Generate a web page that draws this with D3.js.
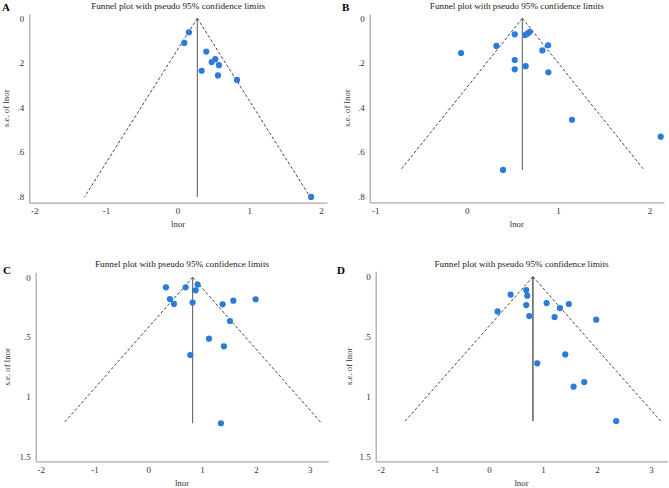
<!DOCTYPE html>
<html>
<head>
<meta charset="utf-8">
<script src="https://cdn.jsdelivr.net/npm/d3@7"></script>
<style>
  html, body { margin: 0; padding: 0; background: #fff; }
  svg text { font-family: "Liberation Serif", "Times New Roman", "DejaVu Serif", serif; }
</style>
</head>
<body>
<div id="chart"></div>
<script>
const WIDTH = 669;
const HEIGHT = 488;

const TITLE = 'Funnel plot with pseudo 95% confidence limits';
const X_LABEL = 'lnor';
const Y_LABEL = 's.e. of lnor';

// lnor / se pairs
const A_LNOR = [0.158, 0.093, 0.40, 0.526, 0.475, 0.577, 0.335, 0.563, 0.829, 1.863];
const A_SE   = [0.063, 0.111, 0.150, 0.184, 0.197, 0.211, 0.236, 0.257, 0.277, 0.803];
const A_POOLED = 0.275;
const A_XTICKS = [-2, -1, 0, 1, 2];
const A_YTICKS = [0, 0.2, 0.4, 0.6, 0.8];

const B_LNOR = [-0.062, 0.325, 0.526, 0.639, 0.664, 0.690, 0.891, 0.828, 0.526, 0.526, 0.646, 0.894, 1.153, 2.124, 0.398];
const B_SE   = [0.156, 0.124, 0.072, 0.075, 0.069, 0.061, 0.121, 0.144, 0.187, 0.229, 0.215, 0.242, 0.455, 0.531, 0.680];
const B_POOLED = 0.609;
const B_XTICKS = [-1, 0, 1, 2];
const B_YTICKS = [0, 0.2, 0.4, 0.6, 0.8];

const C_LNOR = [0.328, 0.694, 0.917, 0.880, 0.403, 0.477, 0.824, 1.382, 1.580, 1.995, 1.518, 1.128, 1.406, 0.781, 1.350];
const C_SE   = [0.084, 0.084, 0.061, 0.109, 0.182, 0.223, 0.212, 0.226, 0.196, 0.184, 0.366, 0.514, 0.578, 0.651, 1.223];
const C_POOLED = 0.824;
const C_XTICKS = [-2, -1, 0, 1, 2, 3];
const C_YTICKS = [0, 0.5, 1, 1.5];

const D_LNOR = [0.690, 0.709, 0.401, 0.690, 0.160, 0.746, 1.067, 1.313, 1.479, 1.215, 1.985, 1.412, 0.894, 1.763, 1.566, 2.355];
const D_SE   = [0.111, 0.159, 0.150, 0.237, 0.290, 0.329, 0.220, 0.262, 0.228, 0.337, 0.359, 0.649, 0.724, 0.880, 0.919, 1.206];
const D_POOLED = 0.814;
const D_XTICKS = [-2, -1, 0, 1, 2, 3];
const D_YTICKS = [0, 0.5, 1, 1.5];

const DOT = '#2b7bdb';
const Z = 1.96;
const SERIF = '"Liberation Serif", "Times New Roman", serif';

const panels = [
  { tag: 'A', lnor: A_LNOR, se: A_SE, pooled: A_POOLED, xt: A_XTICKS, yt: A_YTICKS,
    xd: [-2.07, 2.085], xr: [29.3, 327], yd: [-0.02, 0.829], yr: [13.8, 202.7],
    tagX: 2, tagY: 11, yLabX: 8.5, titleY: 8.5, centre: '#666' },
  { tag: 'B', lnor: B_LNOR, se: B_SE, pooled: B_POOLED, xt: B_XTICKS, yt: B_YTICKS,
    xd: [-1.062, 2.16], xr: [369.7, 664], yd: [-0.02, 0.825], yr: [13.8, 202.3],
    tagX: 342, tagY: 11, yLabX: 349.5, titleY: 8.5, centre: '#666' },
  { tag: 'C', lnor: C_LNOR, se: C_SE, pooled: C_POOLED, xt: C_XTICKS, yt: C_YTICKS,
    xd: [-2.093, 3.346], xr: [35.7, 328.3], yd: [-0.042, 1.542], yr: [272.3, 461.3],
    tagX: 3, tagY: 274, yLabX: 9.5, titleY: 267, centre: '#666' },
  { tag: 'D', lnor: D_LNOR, se: D_SE, pooled: D_POOLED, xt: D_XTICKS, yt: D_YTICKS,
    xd: [-2.095, 3.30], xr: [375.7, 667.3], yd: [-0.045, 1.542], yr: [271.3, 461.3],
    tagX: 337, tagY: 274, yLabX: 351.5, titleY: 266.5, centre: '#222' }
];

const fmt = d => (d === 0 ? '0' : String(d).replace(/^0\./, '.'));

const svg = d3.select('#chart')
  .append('svg')
  .attr('width', WIDTH)
  .attr('height', HEIGHT)
  .style('display', 'block');

panels.forEach(p => {
  const x = d3.scaleLinear().domain(p.xd).range(p.xr);
  const y = d3.scaleLinear().domain(p.yd).range(p.yr);
  const g = svg.append('g');
  const maxSe = d3.max(p.se);

  // axes: grey line, labels only
  const xAxis = g.append('g')
    .attr('transform', `translate(0,${p.yr[1]})`)
    .call(d3.axisBottom(x).tickValues(p.xt).tickFormat(fmt).tickSize(0).tickPadding(5));
  const yAxis = g.append('g')
    .attr('transform', `translate(${p.xr[0]},0)`)
    .call(d3.axisLeft(y).tickValues(p.yt).tickFormat(fmt).tickSize(0).tickPadding(5));
  [xAxis, yAxis].forEach(a => {
    a.attr('font-family', SERIF).attr('font-size', 9);
    a.select('.domain').attr('stroke', '#aaa').attr('stroke-width', 1.3);
    a.selectAll('text').attr('fill', '#333');
  });

  // pseudo 95% limits
  const limits = [
    [[p.pooled, 0], [p.pooled - Z * maxSe, maxSe]],
    [[p.pooled, 0], [p.pooled + Z * maxSe, maxSe]]
  ];
  g.selectAll('.limit')
    .data(limits)
    .join('path')
    .attr('class', 'limit')
    .attr('d', d3.line().x(d => x(d[0])).y(d => y(d[1])))
    .attr('fill', 'none')
    .attr('stroke', '#333')
    .attr('stroke-width', 0.9)
    .attr('stroke-dasharray', '3,2');

  g.append('line')
    .attr('x1', x(p.pooled)).attr('x2', x(p.pooled))
    .attr('y1', y(0)).attr('y2', y(maxSe))
    .attr('stroke', p.centre)
    .attr('stroke-width', 1.1);

  g.selectAll('.dot')
    .data(d3.zip(p.lnor, p.se))
    .join('circle')
    .attr('class', 'dot')
    .attr('cx', d => x(d[0]))
    .attr('cy', d => y(d[1]))
    .attr('r', 3.1)
    .attr('fill', DOT);

  const midX = (p.xr[0] + p.xr[1]) / 2;
  const midY = (p.yr[0] + p.yr[1]) / 2;

  g.append('text')
    .attr('x', midX).attr('y', p.titleY)
    .attr('text-anchor', 'middle')
    .attr('fill', '#222')
    .attr('font-size', 9.2)
    .text(TITLE);

  g.append('text')
    .attr('x', midX).attr('y', p.yr[1] + 24.5)
    .attr('text-anchor', 'middle')
    .attr('fill', '#333')
    .attr('font-size', 8.8)
    .text(X_LABEL);

  g.append('text')
    .attr('transform', `translate(${p.yLabX},${midY}) rotate(-90)`)
    .attr('text-anchor', 'middle')
    .attr('fill', '#333')
    .attr('font-size', 8.8)
    .text(Y_LABEL);

  g.append('text')
    .attr('x', p.tagX).attr('y', p.tagY)
    .attr('fill', '#000')
    .attr('font-size', 11)
    .attr('font-weight', 'bold')
    .text(p.tag);
});
</script>
</body>
</html>
